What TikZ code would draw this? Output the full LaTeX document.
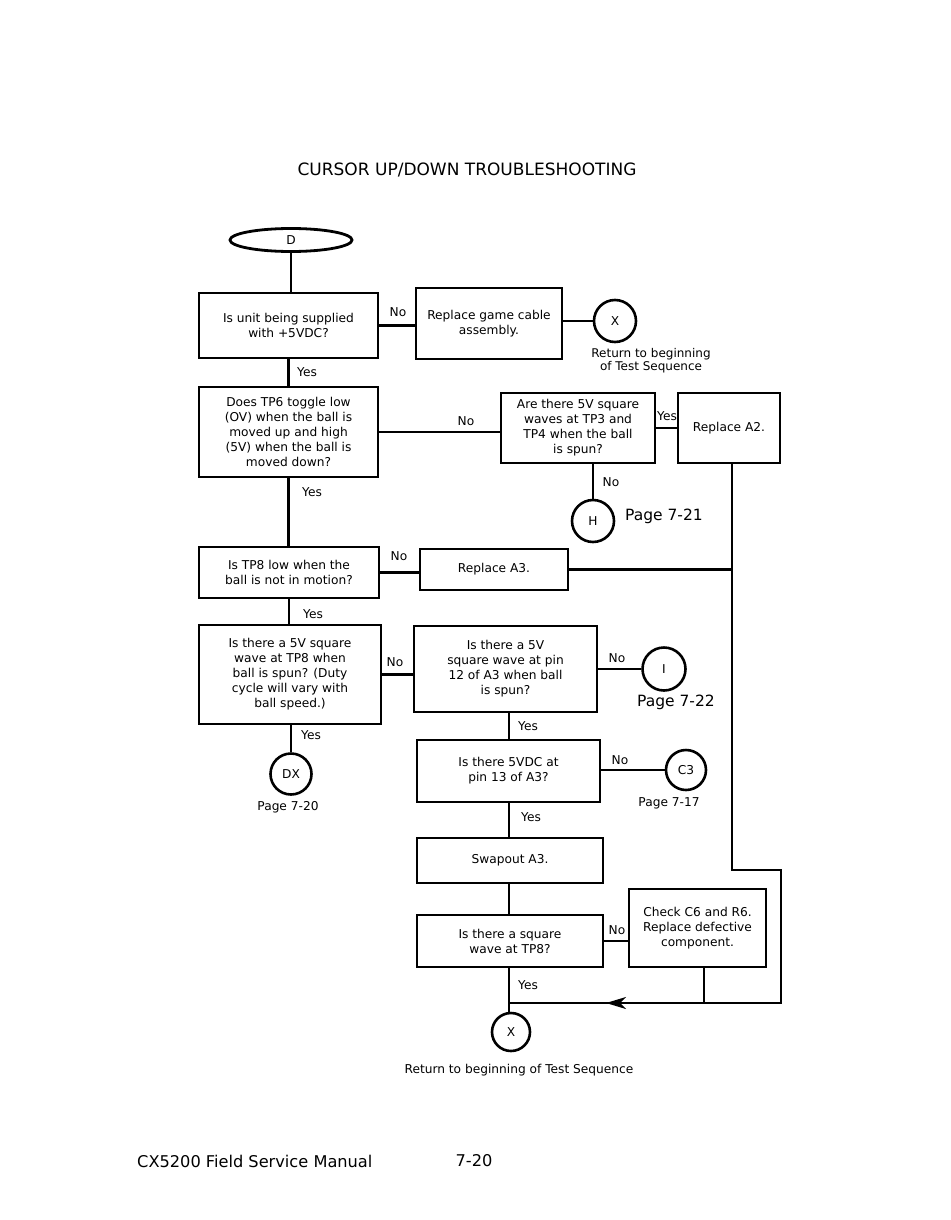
\documentclass[tikz,border=0pt]{standalone}
\usepackage{fontspec}
\setmainfont{DejaVu Sans}
\usetikzlibrary{arrows.meta,shapes.geometric}
\newcommand{\bxf}{\fontsize{12.2}{15}\selectfont}
\newcommand{\pgbig}{\fontsize{15.5}{17}\selectfont}
\begin{document}
\begin{tikzpicture}[x=1pt,y=-1pt,
  box/.style={draw, line width=2.8pt, align=center, inner sep=0pt, font=\bxf},
  oval/.style={draw, ellipse, line width=2.8pt, inner sep=0pt, font=\bxf},
  circ/.style={draw, circle, line width=2.6pt, inner sep=0pt, font=\bxf},
  conn/.style={line width=2.3pt},
  lab/.style={inner sep=1pt, font=\bxf, align=center},
  pagebig/.style={inner sep=1pt, font=\pgbig},
  foot/.style={inner sep=0pt, font=\fontsize{16.2}{18}\selectfont},
  ttl/.style={inner sep=0pt, font=\fontsize{17}{19}\selectfont}]
\useasboundingbox[fill=white] (0,0) rectangle (950,1220);

\node[ttl] (title) at (467,170) {CURSOR UP/DOWN TROUBLESHOOTING};

\node[oval, minimum width=122, minimum height=23] (D) at (291,240) {D};
\node[box, minimum width=179, minimum height=65] (q1) at (288.5,325.5) {Is unit being supplied\\with +5VDC?};
\node[lab] (no1) at (398,312) {No};
\node[box, minimum width=146, minimum height=71] (r1) at (489,323.5) {Replace game cable\\assembly.};
\node[circ, minimum size=42] (x1) at (615,321) {X};
\node[lab, font=\fontsize{12}{13.5}\selectfont] (ret1) at (651,360.5) {Return to beginning\\of Test Sequence};
\node[lab] (yes1) at (307,372) {Yes};

\node[box, minimum width=179, minimum height=90] (q2) at (288.5,432) {Does TP6 toggle low\\(OV) when the ball is\\moved up and high\\(5V) when the ball is\\moved down?};
\node[lab] (no2) at (466,421) {No};
\node[box, minimum width=154, minimum height=70] (q3) at (578,428) {Are there 5V square\\waves at TP3 and\\TP4 when the ball\\is spun?};
\node[lab] (yes2) at (667,416) {Yes};
\node[box, minimum width=102, minimum height=70] (a2) at (729,428) {Replace A2.};
\node[lab] (no3) at (611,482) {No};
\node[circ, minimum size=42] (H) at (593,521) {H};
\node[pagebig] (p721) at (664,516) {Page 7-21};
\node[lab] (yes3) at (312,492) {Yes};

\node[box, minimum width=180, minimum height=51] (q4) at (289,572.5) {Is TP8 low when the\\ball is not in motion?};
\node[lab] (no4) at (399,556) {No};
\node[box, minimum width=148, minimum height=41] (a3) at (494,569.5) {Replace A3.};
\node[lab] (yes4) at (313,614) {Yes};

\node[box, minimum width=182, minimum height=99] (q5) at (290,674.5) {Is there a 5V square\\wave at TP8 when\\ball is spun? (Duty\\cycle will vary with\\ball speed.)};
\node[lab] (no5) at (395,662) {No};
\node[box, minimum width=183, minimum height=86] (q6) at (505.5,669) {Is there a 5V\\square wave at pin\\12 of A3 when ball\\is spun?};
\node[lab] (no6) at (617,658) {No};
\node[circ, minimum size=43] (I) at (664,669) {I};
\node[pagebig] (p722) at (676,702) {Page 7-22};
\node[lab] (yes5) at (311,735) {Yes};
\node[circ, minimum size=41] (DX) at (291,774) {DX};
\node[lab] (p720) at (288,807) {Page 7-20};
\node[lab] (yes6) at (528,726) {Yes};

\node[box, minimum width=183, minimum height=62] (q7) at (508.5,771) {Is there 5VDC at\\pin 13 of A3?};
\node[lab] (no7) at (620,760) {No};
\node[circ, minimum size=40] (C3) at (686,770) {C3};
\node[lab] (p717) at (669,803) {Page 7-17};
\node[lab] (yes7) at (531,817) {Yes};

\node[box, minimum width=186, minimum height=45] (sw) at (510,860.5) {Swapout A3.};
\node[box, minimum width=186, minimum height=52] (q8) at (510,941) {Is there a square\\wave at TP8?};
\node[lab] (no8) at (617,930) {No};
\node[box, minimum width=137, minimum height=78] (c6) at (697.5,928) {Check C6 and R6.\\Replace defective\\component.};
\node[lab] (yes8) at (528,985) {Yes};
\node[circ, minimum size=38] (x2) at (511,1032) {X};
\node[lab] (ret2) at (519,1070) {Return to beginning of Test Sequence};

\node[foot, anchor=west] (foot1) at (137,1161) {CX5200 Field Service Manual};
\node[foot] (foot2) at (474,1161) {7-20};

% connectors
\coordinate (colx) at (509,0);
\coordinate (rv1) at (732,870);
\coordinate (rv2) at (781,870);
\coordinate (rv3) at (781,1003);
\coordinate (rv4) at (509,1003);
\coordinate (rc) at (704,1003);
\coordinate (tip) at (606,1003);

\draw[conn] (D.south) -- (D.south |- q1.north);
\draw[conn] (q1.east) -- (q1.east -| r1.west);
\draw[conn] (x1.west -| r1.east) -- (x1.west);
\draw[conn] (q1.south) -- (q1.south |- q2.north);
\draw[conn] (q2.east) -- (q2.east -| q3.west);
\draw[conn] (q3.east) -- (a2.west);
\draw[conn] (H.north |- q3.south) -- (H.north);
\draw[conn] (q2.south) -- (q2.south |- q4.north);
\draw[conn] (q4.east) -- (q4.east -| a3.west);
\draw[conn] (q4.south) -- (q4.south |- q5.north);
\draw[conn] (q5.east) -- (q5.east -| q6.west);
\draw[conn] (q6.east) -- (I.west);
\draw[conn] (DX.north |- q5.south) -- (DX.north);
\draw[conn] (q6.south -| colx) -- (q7.north -| colx);
\draw[conn] (C3.west -| q7.east) -- (C3.west);
\draw[conn] (q7.south -| colx) -- (sw.north -| colx);
\draw[conn] (sw.south -| colx) -- (q8.north -| colx);
\draw[conn] (q8.east) -- (q8.east -| c6.west);
\draw[conn] (q8.south -| colx) -- (x2.north -| colx);
\draw[conn] (a2.south -| rv1) -- (rv1) -- (rv2) -- (rv3) -- (rv4);
\draw[conn] (a3.east) -- (a3.east -| rv1);
\draw[conn] (c6.south -| rc) -- (rc);
\draw[conn, -{Stealth[length=20pt,width=12pt,inset=6pt]}] (rc) -- (tip);
\end{tikzpicture}
\end{document}
